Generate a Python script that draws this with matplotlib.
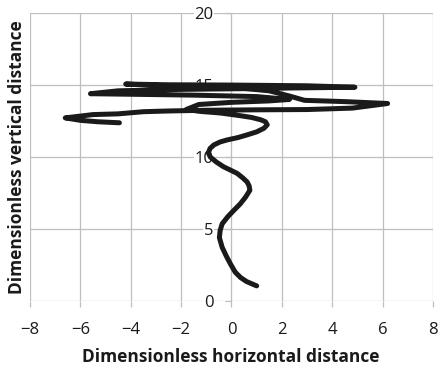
import matplotlib
matplotlib.use("Agg")
import matplotlib.pyplot as plt

plt.rcParams['font.family'] = ['Open Sans', 'DejaVu Sans']

# path of the tracked point (dimensionless units)
x_path = [1.0, 0.6, 0.36, 0.15, -0.04, -0.2, -0.37, -0.48, -0.45, -0.37, -0.15, 0.09,
          0.35, 0.56, 0.73, 0.7, 0.62, 0.45, 0.23, -0.05, -0.31, -0.6, -0.84, -0.92,
          -0.85, -0.70, -0.45, -0.17, 0.25, 0.62, 1.0, 1.29, 1.42, 1.35, 1.16, 0.8,
          0.36, -0.44, -1.24, -1.8, -1.3, 0.0, 1.5, 2.3, 1.0, -1.5, -3.5, -5.6,
          -4.5, -2.0, 0.5, 2.5, 4.9, 3.0, 0.0, -2.5, -4.2, -2.0, 0.0, 1.5,
          2.3, 2.9, 4.5, 6.2, 4.8, 3.0, 1.0, -1.0, -2.5, -3.5, -4.5, -5.5,
          -6.6, -6.0, -5.3, -4.45]
y_path = [1.05, 1.35, 1.63, 2.0, 2.57, 3.1, 3.73, 4.4, 4.9, 5.36, 5.85, 6.29,
          6.75, 7.22, 7.69, 8.0, 8.27, 8.55, 8.86, 9.1, 9.32, 9.65, 10.0, 10.3,
          10.6, 10.84, 11.05, 11.19, 11.35, 11.54, 11.75, 12.0, 12.24, 12.45, 12.59, 12.75,
          12.87, 13.06, 13.17, 13.3, 13.65, 13.8, 13.9, 14.0, 14.2, 14.3, 14.35, 14.4,
          14.6, 14.7, 14.75, 14.8, 14.85, 14.95, 15.0, 15.02, 15.07, 14.9, 14.85, 14.6,
          14.24, 13.94, 13.85, 13.72, 13.4, 13.3, 13.28, 13.25, 13.2, 13.15, 13.0, 12.95,
          12.72, 12.55, 12.45, 12.38]

x_ticks = [-8, -6, -4, -2, 0, 2, 4, 6, 8]
y_ticks = [0, 5, 10, 15, 20]

fig = plt.figure(figsize=(4.38, 3.71), dpi=100)
ax = fig.add_axes([0.0685, 0.1887, 0.920, 0.776])

grid_c = '#bfbfbf'
ax.plot(x_path, y_path, color='#1a1a1a', lw=3.6, solid_capstyle='round',
        solid_joinstyle='round', zorder=3)

ax.set_xlim(-8, 8)
ax.set_ylim(0, 20)
ax.set_xticks(x_ticks)
ax.set_yticks(y_ticks)
ax.grid(True, color=grid_c, lw=0.9)

for s in ['top', 'right', 'bottom']:
    ax.spines[s].set_visible(False)
ax.spines['left'].set_position(('data', 0))
ax.spines['left'].set_color(grid_c)
ax.spines['left'].set_zorder(1)

ax.tick_params(axis='x', direction='out', length=4, width=0.9, color=grid_c,
               pad=11, labelsize=12, labelcolor='#1a1a1a')
ax.tick_params(axis='y', direction='out', length=4, width=0.9, color=grid_c,
               pad=9, labelsize=12, labelcolor='#1a1a1a')
for lab in ax.get_yticklabels():
    lab.set_bbox(dict(facecolor='white', edgecolor='none', pad=0.5))

fig.text(0.527, 0.038, 'Dimensionless horizontal distance', ha='center', va='center',
         fontsize=12.5, fontweight='bold', color='#1a1a1a')
fig.text(0.038, 0.577, 'Dimensionless vertical distance', ha='center', va='center',
         rotation=90, fontsize=12.5, fontweight='bold', color='#1a1a1a')

fig.savefig('out.png', dpi=100)
